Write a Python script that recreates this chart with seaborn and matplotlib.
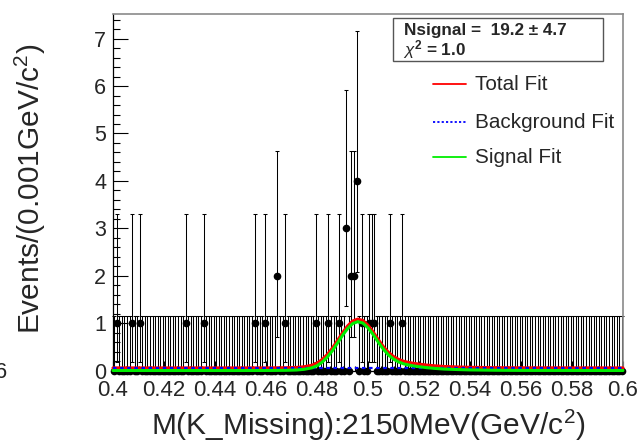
import numpy as np
import pandas as pd
import matplotlib
matplotlib.use("Agg")
import matplotlib.pyplot as plt
from matplotlib.lines import Line2D
from matplotlib.patches import Rectangle
from matplotlib.ticker import MultipleLocator, FuncFormatter
import seaborn as sns

# ---- data -------------------------------------------------------------
mass_lo, mass_hi, bin_width = 0.400, 0.600, 0.001

# bin centres (GeV/c^2) of the non-empty bins and their event counts
filled_mass = [0.4015, 0.4075, 0.4105, 0.4285, 0.4355, 0.4555, 0.4595,
               0.4645, 0.4675, 0.4795, 0.4845, 0.4885, 0.4915, 0.4935,
               0.4945, 0.4955, 0.4975, 0.5005, 0.5015, 0.5025, 0.5085,
               0.5135]
filled_counts = [1, 1, 1, 1, 1, 1, 1,
                 2, 1, 1, 1, 1, 3, 2,
                 2, 4, 1, 1, 1, 1, 1,
                 1]

# 68% central Poisson intervals for n = 0..4 (lower, upper)
poisson_lo = [0.0, 0.1727, 0.7083, 1.3672, 2.0860]
poisson_hi = [1.1479, 3.2996, 4.6384, 5.9182, 7.1627]

# fitted signal shape (events / bin)
sig_x = [0.400, 0.450, 0.462, 0.468, 0.472, 0.475, 0.478, 0.480, 0.482,
         0.484, 0.486, 0.488, 0.490, 0.492, 0.494, 0.496, 0.498, 0.500,
         0.502, 0.504, 0.506, 0.508, 0.510, 0.512, 0.514, 0.516, 0.518,
         0.520, 0.523, 0.526, 0.530, 0.535, 0.540, 0.550, 0.560, 0.600]
sig_y = [0.000, 0.000, 0.001, 0.004, 0.010, 0.025, 0.056, 0.100, 0.175,
         0.280, 0.415, 0.575, 0.740, 0.885, 0.990, 1.030, 1.000, 0.900,
         0.760, 0.600, 0.450, 0.330, 0.240, 0.180, 0.140, 0.115, 0.095,
         0.080, 0.060, 0.045, 0.030, 0.020, 0.012, 0.005, 0.002, 0.000]

# flat background (events / bin)
bkg_level = 0.055

n_signal, n_signal_err, chi2 = 19.2, 4.7, 1.0
legend_labels = ["Total Fit", "Background Fit", "Signal Fit"]

# ---- histogram with Poisson error bars --------------------------------
n_bins = int(round((mass_hi - mass_lo) / bin_width))
centres = mass_lo + bin_width * (np.arange(n_bins) + 0.5)
counts = np.zeros(n_bins, dtype=int)
for m, c in zip(filled_mass, filled_counts):
    counts[int((m - mass_lo) / bin_width)] = c
err_lo = counts - np.array(poisson_lo)[counts]
err_hi = np.array(poisson_hi)[counts] - counts
hist = pd.DataFrame({"mass": centres, "events": counts})

curves = pd.DataFrame({"mass": sig_x, "signal": sig_y})
curves["total"] = curves["signal"] + bkg_level
bkg = pd.DataFrame({"mass": [mass_lo, mass_hi], "bkg": [bkg_level, bkg_level]})

# ---- style ------------------------------------------------------------
sns.set_theme(style="ticks")
plt.rcParams["font.family"] = ["Liberation Sans", "DejaVu Sans"]
plt.rcParams["mathtext.fontset"] = "custom"
plt.rcParams["mathtext.rm"] = "Liberation Sans"
plt.rcParams["mathtext.it"] = "Liberation Sans:italic"
plt.rcParams["mathtext.bf"] = "Liberation Sans:bold"

W, H = 642, 448
fig = plt.figure(figsize=(W / 100, H / 100), dpi=100)
fig.patch.set_facecolor("white")


def fx(px):
    return px / W


def fy(py):
    return 1 - py / H


ax = fig.add_axes([fx(113), fy(370.5), (623 - 113) / W, (370.5 - 14) / H])
ax.set_facecolor("white")

# data points with error bars
ax.errorbar(hist["mass"], hist["events"], yerr=[err_lo, err_hi],
            xerr=bin_width / 2, fmt="o", ms=4.5, color="black",
            elinewidth=0.75, capsize=1.6, capthick=0.75, clip_on=False,
            zorder=2)

# fit curves
sns.lineplot(data=curves, x="mass", y="total", ax=ax, color="#ff0000",
             lw=2.2, sort=False, estimator=None, zorder=3)
sns.lineplot(data=bkg, x="mass", y="bkg", ax=ax, color="#0000ff",
             lw=1.6, sort=False, estimator=None, zorder=4,
             linestyle=(0, (1.6, 1.6)))
sns.lineplot(data=curves, x="mass", y="signal", ax=ax,
             color="#00ee00", lw=2.2, sort=False,
             estimator=None, zorder=5)
for ln in ax.lines:
    ln.set_clip_on(False)

# axes
ax.set_xlim(mass_lo, mass_hi)
ax.set_ylim(0, 7.52)
ax.set_xlabel("")
ax.set_ylabel("")
ax.xaxis.set_major_locator(MultipleLocator(0.02))
ax.xaxis.set_minor_locator(MultipleLocator(0.005))
ax.yaxis.set_major_locator(MultipleLocator(1))
ax.yaxis.set_minor_locator(MultipleLocator(0.2))
ax.xaxis.set_major_formatter(FuncFormatter(lambda v, p: f"{v:.2f}".rstrip("0").rstrip(".")))
ax.tick_params(axis="x", which="major", direction="in", length=7.2,
               width=0.8, labelsize=16, pad=6.5, color="black")
ax.tick_params(axis="x", which="minor", direction="in", length=3.6,
               width=0.8, color="black")
ax.tick_params(axis="y", which="major", direction="in", length=10.8,
               width=0.8, labelsize=15.5, pad=5, color="black")
ax.tick_params(axis="y", which="minor", direction="in", length=4.8,
               width=0.8, color="black")
for side in ("left", "bottom"):
    ax.spines[side].set_color("black")
    ax.spines[side].set_linewidth(0.9)
for side in ("top", "right"):
    ax.spines[side].set_color("#8a8a8a")
    ax.spines[side].set_linewidth(1.2)
    ax.spines[side].set_visible(True)

# axis titles
fig.text(fx(368), fy(435), "M(K_Missing):2150MeV(GeV/c$^{2}$)",
         ha="center", va="baseline", fontsize=21.5)
fig.text(fx(30), fy(189), "Events/(0.001GeV/c$^{2}$)", rotation=90,
         ha="center", va="center", fontsize=21.5)

# label spilling in from the neighbouring pad
fig.text(fx(7), fy(372), "0.6", ha="right", va="center", fontsize=15.5)

# fit-result box
fig.add_artist(Rectangle((fx(393), fy(61)), (603 - 393) / W, (61 - 18) / H,
                         transform=fig.transFigure, facecolor="white",
                         edgecolor="#555555", lw=1.0, zorder=10))
fig.text(fx(404), fy(34.5), f"Nsignal =  {n_signal:.1f} ± {n_signal_err:.1f}",
         fontsize=12.3, fontweight="bold", va="baseline", zorder=11)
fig.text(fx(403), fy(55.5), r"$\chi^{\mathbf{2}}$" + f" = {chi2:.1f}",
         fontsize=12.3, fontweight="bold", va="baseline", zorder=11)

# legend
leg_styles = [dict(color="#ff0000", lw=1.3, ls="-"),
              dict(color="#0000ff", lw=1.3, ls=(0, (1.2, 1.2))),
              dict(color="#00ee00", lw=1.3, ls="-")]
for yy, lab, st in zip([84, 122, 157], legend_labels, leg_styles):
    fig.add_artist(Line2D([fx(433), fx(466)], [fy(yy), fy(yy)],
                          transform=fig.transFigure, **st))
    fig.text(fx(475), fy(yy), lab, fontsize=14.9, va="center")

fig.savefig("out.png", dpi=100)
